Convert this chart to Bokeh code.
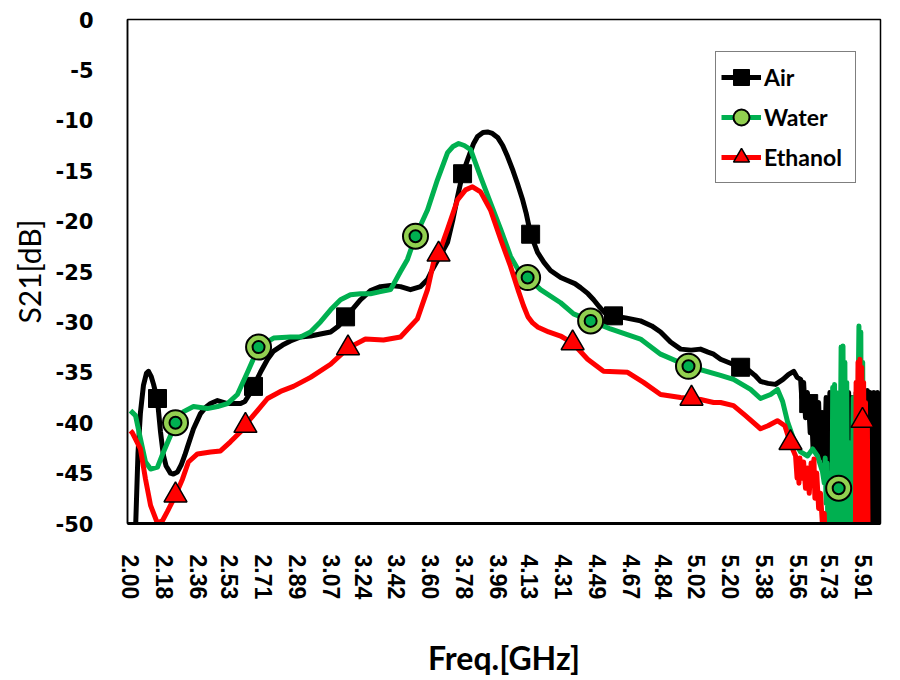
from bokeh.plotting import figure
from bokeh.models import FixedTicker, Range1d, Legend, LegendItem
from bokeh.embed import file_html
from bokeh.resources import INLINE

# ---------------- data ----------------
x_tick_labels = ["2.00", "2.18", "2.36", "2.53", "2.71", "2.89", "3.07", "3.24",
                 "3.42", "3.60", "3.78", "3.96", "4.13", "4.31", "4.49", "4.67",
                 "4.84", "5.02", "5.20", "5.38", "5.56", "5.73", "5.91"]
y_ticks = [-50, -45, -40, -35, -30, -25, -20, -15, -10, -5, 0]
y_tick_labels = ["-50", "-45", "-40", "-35", "-30", "-25", "-20", "-15", "-10", "-5", "0"]

# Air (S21 in dB vs frequency in GHz)
air_f = [2.000, 2.027, 2.040, 2.053, 2.069, 2.085, 2.096, 2.110, 2.123, 2.144,
         2.160, 2.175, 2.190, 2.213, 2.229, 2.250, 2.270, 2.290, 2.304, 2.336,
         2.373, 2.400, 2.427, 2.464, 2.517, 2.587, 2.610, 2.630, 2.656, 2.693,
         2.731, 2.763, 2.811, 2.853, 2.907, 2.960, 3.013, 3.067, 3.110, 3.147,
         3.190, 3.227, 3.280, 3.333, 3.387, 3.440, 3.493, 3.547, 3.584, 3.610,
         3.650, 3.691, 3.720, 3.744, 3.771, 3.800, 3.830, 3.851, 3.880, 3.904,
         3.930, 3.958, 3.985, 4.011, 4.040, 4.064, 4.090, 4.110, 4.134, 4.171,
         4.205, 4.240, 4.294, 4.331, 4.370, 4.400, 4.440, 4.470, 4.500, 4.530,
         4.576, 4.640, 4.720, 4.780, 4.827, 4.880, 4.934, 4.990, 5.040, 5.080,
         5.110, 5.147, 5.200, 5.254, 5.290, 5.330, 5.360, 5.400, 5.440, 5.480,
         5.510, 5.537, 5.555, 5.574,
         5.580, 5.590, 5.600, 5.610, 5.617, 5.625, 5.630, 5.640, 5.650, 5.660,
         5.670, 5.680, 5.690, 5.700, 5.710, 5.720, 5.730, 5.740, 5.750, 5.760,
         5.770, 5.780, 5.790, 5.800, 5.810, 5.820, 5.830, 5.840, 5.850, 5.860,
         5.870, 5.880, 5.890, 5.900, 5.910, 5.920, 5.930, 5.940, 5.945, 5.950,
         5.955, 5.960, 5.965, 5.970, 5.975, 5.980, 5.985, 5.990, 5.995, 6.000]
air_db = [-62.0, -50.5, -43.0, -39.0, -36.3, -35.1, -34.9, -35.4, -36.2, -37.8,
          -40.9, -43.2, -44.3, -45.0, -45.1, -44.9, -44.2, -43.2, -42.4, -40.6,
          -39.1, -38.5, -38.1, -37.8, -38.1, -38.1, -37.9, -37.3, -36.4, -35.0,
          -33.7, -32.9, -32.3, -31.9, -31.5, -31.4, -31.2, -31.0, -30.4, -29.5,
          -28.6, -27.8, -26.9, -26.5, -26.4, -26.5, -26.8, -26.5, -25.8, -24.8,
          -23.5, -22.1, -19.8, -17.6, -15.3, -13.8, -12.3, -11.6, -11.2, -11.15,
          -11.3, -11.7, -12.5, -13.6, -15.0, -16.3, -17.8, -19.2, -21.3, -23.1,
          -24.1, -24.9, -25.6, -25.9, -26.2, -26.6, -27.2, -27.8, -28.5, -29.1,
          -29.4, -29.6, -29.9, -30.4, -31.0, -32.0, -32.7, -32.8, -32.7, -33.0,
          -33.2, -33.7, -34.1, -34.5, -34.7, -35.3, -35.9, -36.1, -36.2, -35.7,
          -35.2, -34.9, -35.5, -35.7,
          -37.5, -36.0, -39.5, -37.0, -38.1, -41.0, -37.5, -42.5, -38.5, -43.0,
          -38.0, -43.5, -39.0, -44.0, -37.5, -44.5, -37.0, -45.0, -38.0, -55.0,
          -37.5, -55.0, -37.0, -55.0, -37.5, -55.0, -37.0, -55.0, -37.5, -55.0,
          -37.0, -55.0, -37.5, -55.0, -37.0, -55.0, -36.8, -55.0, -37.0, -55.0,
          -37.2, -55.0, -37.0, -55.0, -37.3, -55.0, -37.0, -55.0, -37.2, -55.0]
air_mark_f = [2.144, 2.656, 3.147, 3.771, 4.134, 4.576, 5.254, 5.617]
air_mark_db = [-37.6, -36.4, -29.5, -15.3, -21.3, -29.4, -34.5, -38.1]

# Water
water_f = [2.000, 2.027, 2.053, 2.080, 2.107, 2.144, 2.176, 2.213, 2.240, 2.283,
           2.336, 2.410, 2.464, 2.517, 2.570, 2.624, 2.683, 2.763, 2.853, 2.907,
           2.960, 3.013, 3.067, 3.120, 3.173, 3.227, 3.280, 3.333, 3.387, 3.440,
           3.477, 3.520, 3.584, 3.637, 3.691, 3.720, 3.750, 3.780, 3.814, 3.867,
           3.920, 3.974, 4.027, 4.070, 4.118, 4.187, 4.294, 4.363, 4.454, 4.560,
           4.720, 4.827, 4.976, 5.147, 5.216, 5.307, 5.360, 5.414, 5.451, 5.478,
           5.504, 5.536, 5.574, 5.611, 5.638, 5.664, 5.691,
           5.700, 5.705, 5.710, 5.715, 5.720, 5.725, 5.730, 5.735, 5.740, 5.745,
           5.750, 5.755, 5.760, 5.765, 5.770, 5.775, 5.780, 5.790, 5.795, 5.800,
           5.805, 5.810, 5.815, 5.820, 5.825, 5.835, 5.840, 5.845, 5.855, 5.860,
           5.865, 5.870, 5.885, 5.890, 5.895, 5.900, 5.905, 5.910, 6.000]
water_db = [-38.8, -39.3, -41.6, -43.9, -44.6, -44.4, -42.9, -41.3, -40.0, -38.9,
            -38.4, -38.6, -38.4, -38.1, -37.2, -35.0, -32.5, -31.6, -31.5, -31.5,
            -31.0, -30.0, -28.8, -27.8, -27.3, -27.2, -27.2, -27.0, -26.8, -25.0,
            -23.8, -21.5, -18.9, -15.9, -13.2, -12.6, -12.3, -12.5, -12.9, -15.6,
            -18.2, -20.8, -23.5, -24.9, -25.6, -26.8, -28.1, -29.2, -29.9, -30.7,
            -31.7, -33.2, -34.4, -35.3, -35.7, -36.7, -37.6, -37.2, -36.7, -37.9,
            -39.9, -41.6, -42.9, -43.3, -42.6, -43.3, -44.9,
            -46.0, -43.5, -48.0, -44.0, -52.0, -45.0, -55.0, -46.0, -55.0, -36.5,
            -55.0, -36.2, -55.0, -37.0, -55.0, -38.0, -55.0, -32.5, -55.0, -32.4,
            -55.0, -34.0, -55.0, -36.0, -55.0, -55.0, -42.0, -55.0, -37.5, -55.0,
            -38.0, -55.0, -30.4, -55.0, -31.0, -55.0, -34.0, -55.0, -55.0]
water_mark_f = [2.240, 2.683, 3.520, 4.118, 4.454, 4.976, 5.777]
water_mark_db = [-40.0, -32.5, -21.5, -25.6, -29.9, -34.4, -46.5]

# Ethanol
eth_f = [2.000, 2.010, 2.053, 2.080, 2.107, 2.144, 2.171, 2.197, 2.240, 2.277,
         2.309, 2.357, 2.427, 2.480, 2.533, 2.587, 2.613, 2.677, 2.731, 2.800,
         2.869, 2.960, 3.067, 3.160, 3.253, 3.349, 3.440, 3.530, 3.584, 3.616,
         3.643, 3.691, 3.744, 3.787, 3.824, 3.867, 3.920, 3.974, 4.027, 4.070,
         4.096, 4.120, 4.145, 4.171, 4.230, 4.294, 4.358, 4.438, 4.523, 4.651,
         4.736, 4.827, 4.934, 4.998, 5.040, 5.110, 5.147, 5.216, 5.280, 5.360,
         5.400, 5.450, 5.490, 5.520, 5.547,
         5.555, 5.560, 5.565, 5.570, 5.580, 5.590, 5.600, 5.610, 5.620, 5.630,
         5.640, 5.645, 5.650, 5.660, 5.670, 5.680, 5.690, 5.700, 5.710, 5.865,
         5.870, 5.875, 5.880, 5.885, 5.890, 5.895, 5.900, 5.905, 5.910, 5.915,
         5.920, 5.925, 5.930, 5.935, 6.000]
eth_db = [-40.8, -41.0, -42.6, -45.6, -48.2, -50.0, -49.7, -48.8, -47.2, -45.6,
          -43.9, -43.1, -42.9, -42.8, -41.9, -40.9, -40.2, -38.8, -37.6, -36.9,
          -36.4, -35.5, -34.2, -32.6, -31.7, -31.8, -31.5, -29.7, -26.8, -24.1,
          -23.3, -20.8, -17.9, -16.9, -16.6, -17.1, -18.9, -21.8, -24.5, -27.0,
          -28.4, -29.5, -30.1, -30.5, -31.0, -31.4, -32.1, -33.7, -34.9, -35.0,
          -36.0, -37.2, -37.5, -37.6, -37.7, -38.0, -38.0, -38.3, -39.3, -40.6,
          -40.3, -39.8, -40.3, -42.1, -43.3,
          -45.5, -44.0, -46.0, -43.5, -45.5, -43.9, -46.5, -44.5, -47.0, -44.0,
          -46.0, -43.6, -47.5, -45.0, -48.5, -47.0, -50.0, -49.0, -55.0, -55.0,
          -36.0, -55.0, -34.0, -55.0, -33.7, -55.0, -34.5, -55.0, -36.0, -55.0,
          -38.0, -55.0, -40.0, -55.0, -55.0]
eth_mark_f = [2.240, 2.613, 3.160, 3.643, 4.358, 4.992, 5.520, 5.904]
eth_mark_db = [-47.2, -40.3, -32.6, -23.3, -32.1, -37.6, -42.0, -39.8]

# ---------------- figure ----------------
p = figure(width=900, height=680, output_backend="svg", toolbar_location=None,
           x_range=Range1d(1.984, 6.0), y_range=Range1d(-50, 0),
           min_border_left=127, min_border_right=20,
           min_border_top=19, min_border_bottom=155,
           background_fill_color="white", border_fill_color="white")

p.xgrid.visible = False
p.ygrid.visible = False
p.outline_line_color = "black"
p.outline_line_width = 1.5

tick_pos = [float(s) for s in x_tick_labels]
p.xaxis.ticker = FixedTicker(ticks=tick_pos)
p.xaxis.major_label_overrides = {v: s for v, s in zip(tick_pos, x_tick_labels)}
p.xaxis.major_label_orientation = "vertical"
p.yaxis.ticker = FixedTicker(ticks=y_ticks)
p.yaxis.major_label_overrides = {v: s for v, s in zip(y_ticks, y_tick_labels)}

for ax in (p.xaxis[0], p.yaxis[0]):
    ax.major_tick_line_color = None
    ax.minor_tick_line_color = None
    ax.axis_line_color = "black"
    ax.major_label_text_color = "black"
    ax.major_label_text_font_style = "bold"
    ax.axis_label_text_color = "black"

p.xaxis.axis_line_width = 3
p.yaxis.axis_line_width = 1.5

p.xaxis.major_label_text_font = "Liberation Sans"
p.xaxis.major_label_text_font_size = "23px"
p.xaxis.major_label_standoff = 25
p.yaxis.major_label_text_font = "DejaVu Sans"
p.yaxis.major_label_text_font_size = "21px"
p.yaxis.major_label_standoff = 28

p.xaxis.axis_label = "Freq.[GHz]"
p.xaxis.axis_label_text_font = "Lato"
p.xaxis.axis_label_text_font_style = "bold"
p.xaxis.axis_label_text_font_size = "32px"
p.xaxis.axis_label_standoff = 36

p.yaxis.axis_label = "S21[dB]"
p.yaxis.axis_label_text_font = "Lato"
p.yaxis.axis_label_text_font_style = "normal"
p.yaxis.axis_label_text_font_size = "30px"
p.yaxis.axis_label_standoff = 6

LW = 5
GREEN = "#00B050"
LIGHT_GREEN = "#92D050"
RED = "#FF0000"

air_line = p.line(air_f, air_db, line_color="black", line_width=LW, line_join="round")
air_pts = p.scatter(air_mark_f, air_mark_db, marker="square", size=18,
                    fill_color="black", line_color="black", line_width=1)

water_line = p.line(water_f, water_db, line_color=GREEN, line_width=LW, line_join="round")
water_pts = p.scatter(water_mark_f, water_mark_db, marker="circle", size=25,
                      fill_color=LIGHT_GREEN, line_color="black", line_width=2)
p.scatter(water_mark_f, water_mark_db, marker="circle", size=12,
          fill_color=GREEN, line_color="black", line_width=2)

eth_line = p.line(eth_f, eth_db, line_color=RED, line_width=LW, line_join="round")
eth_pts = p.scatter(eth_mark_f, eth_mark_db, marker="triangle", size=23,
                    fill_color=RED, line_color="black", line_width=1.5)

legend = Legend(items=[
    LegendItem(label="Air", renderers=[air_line, air_pts]),
    LegendItem(label="Water", renderers=[water_line, water_pts]),
    LegendItem(label="Ethanol", renderers=[eth_line, eth_pts]),
], location=(588, 340))
legend.border_line_color = "black"
legend.border_line_width = 1.5
legend.background_fill_color = "white"
legend.background_fill_alpha = 1.0
legend.label_text_font = "Lato"
legend.label_text_font_style = "bold"
legend.label_text_font_size = "23px"
legend.label_text_color = "black"
legend.glyph_width = 40
legend.glyph_height = 40
legend.label_height = 40
legend.label_standoff = 3
legend.label_width = 86
legend.spacing = 0
legend.padding = 5
legend.margin = 0
p.add_layout(legend)

open("out.html", "w").write(file_html(p, INLINE))
